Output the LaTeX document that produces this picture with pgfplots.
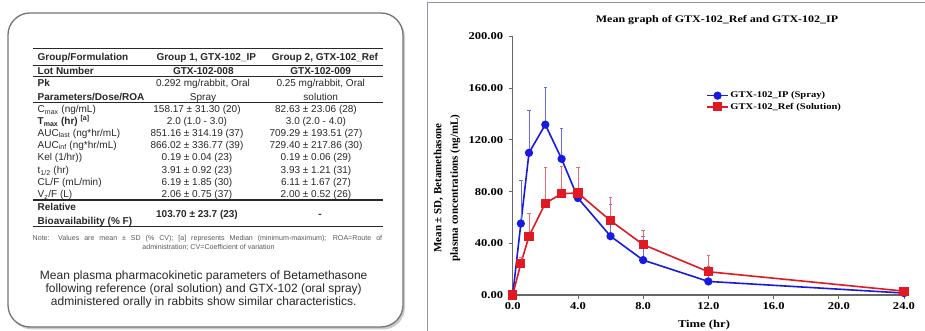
\documentclass[border=0pt]{standalone}
\usepackage{pgfplots}
\pgfplotsset{compat=1.18}
\usepackage{pgfplotstable}
\usepackage{fontspec}
\setmainfont{Liberation Serif}
\newfontfamily\arialf{Liberation Sans}
\newfontfamily\chartfont[FakeStretch=1.2]{Liberation Serif}
\usetikzlibrary{shadows}
\definecolor{ipblue}{RGB}{25,25,225}
\definecolor{refred}{RGB}{225,25,35}
\definecolor{panelborder}{RGB}{115,115,120}
\definecolor{rightborder}{RGB}{140,150,172}
\definecolor{tabtext}{RGB}{40,40,40}
\definecolor{notetext}{RGB}{90,90,90}

\pgfplotstableread{
t y e
0 0 0
0.5 55.3 33.3
1 110 33
2 131.8 28.7
3 105.3 23.7
4 75 23.4
6 45.5 24.5
8 27 18.5
12 10.5 11.5
24 1.5 1.5
}\iptable
\pgfplotstableread{
t y e
0 0 0
0.5 24.4 5.1
1 45.5 17.5
2 71 27.4
3 78.4 21.3
4 78.9 19.5
6 57.5 18.3
8 39 11
12 18 12.5
24 3 1.5
}\reftable

\newcommand\TL[2]{\node[anchor=base west,inner sep=0pt] at (37.5,{327.4-#1}) {#2};}
\newcommand\TC[3]{\node[anchor=base,inner sep=0pt] at (#1,{327.4-#2}) {#3};}
\newcommand\HR[2]{\draw[tabtext, line width=#2] (32.5,{331-#1}) -- (383,{331-#1});}

\begin{document}
\begin{tikzpicture}[x=1pt,y=1pt]
\useasboundingbox (0,0) rectangle (925,331);
% ---------- left panel ----------
\draw[panelborder, line width=1.3pt, rounded corners=22pt, fill=white,
  drop shadow={shadow xshift=2pt, shadow yshift=-2.5pt, opacity=0.4}] (8,4) rectangle (403,318);
\begin{scope}[font=\arialf\fontsize{10}{11}\selectfont, text=tabtext]
\HR{48.3}{1.3pt}
\HR{65}{0.9pt}
\HR{76.7}{0.6pt}
\HR{102.3}{1.0pt}
\HR{200}{1.3pt}
\HR{226.7}{1.3pt}
\TL{56.7}{\bfseries Group/Formulation}
\TC{206.3}{56.7}{\bfseries Group 1, GTX-102\_IP}
\TC{325}{56.7}{\bfseries Group 2, GTX-102\_Ref}
\TL{70.7}{\bfseries Lot Number}
\TC{203.3}{70.7}{\bfseries GTX-102-008}
\TC{320.7}{70.7}{\bfseries GTX-102-009}
\TL{83}{\bfseries Pk}
\TL{96.5}{\bfseries Parameters/Dose/ROA}
\TC{203}{83}{0.292 mg/rabbit, Oral}
\TC{203}{96.5}{Spray}
\TC{320.7}{83}{0.25 mg/rabbit, Oral}
\TC{320.7}{96.5}{solution}
\TL{109}{C\textsubscript{max} (ng/mL)}
\TC{197}{109}{158.17 ± 31.30 (20)}
\TC{316}{109}{82.63 ± 23.06 (28)}
\TL{121}{\bfseries T\textsubscript{max} (hr) \textsuperscript{[a]}}
\TC{197}{121}{2.0 (1.0 - 3.0)}
\TC{316}{121}{3.0 (2.0 - 4.0)}
\TL{132.5}{AUC\textsubscript{last} (ng*hr/mL)}
\TC{197}{132.5}{851.16 ± 314.19 (37)}
\TC{316}{132.5}{709.29 ± 193.51 (27)}
\TL{144.5}{AUC\textsubscript{inf} (ng*hr/mL)}
\TC{197}{144.5}{866.02 ± 336.77 (39)}
\TC{316}{144.5}{729.40 ± 217.86 (30)}
\TL{157}{Kel (1/hr))}
\TC{197}{157}{0.19 ± 0.04 (23)}
\TC{316}{157}{0.19 ± 0.06 (29)}
\TL{170}{t\textsubscript{1/2} (hr)}
\TC{197}{170}{3.91 ± 0.92 (23)}
\TC{316}{170}{3.93 ± 1.21 (31)}
\TL{182.3}{CL/F (mL/min)}
\TC{197}{182.3}{6.19 ± 1.85 (30)}
\TC{316}{182.3}{6.11 ± 1.67 (27)}
\TL{194.3}{V\textsubscript{z}/F (L)}
\TC{197}{194.3}{2.06 ± 0.75 (37)}
\TC{316}{194.3}{2.00 ± 0.52 (26)}
\TL{207}{\bfseries Relative}
\TL{220.5}{\bfseries Bioavailability (\% F)}
\TC{197}{214}{\bfseries 103.70 ± 23.7 (23)}
\TC{320}{214}{\bfseries -}
\end{scope}
\begin{scope}[font=\arialf\fontsize{7.1}{8}\selectfont, text=notetext]
\node[anchor=base west,inner sep=0pt] at (32.5,{331-237.7-2.5}) {\makebox[349.5pt][s]{Note: Values are mean ± SD (\% CV); [a] represents Median (minimum-maximum); ROA=Route of}};
\node[anchor=base,inner sep=0pt] at (208.5,{331-247.5-2.5}) {administration; CV=Coefficient of variation};
\end{scope}
\begin{scope}[font=\arialf\fontsize{12}{14}\selectfont, text=tabtext]
\node[anchor=base,inner sep=0pt] at (203.7,{331-275-4.3}) {Mean plasma pharmacokinetic parameters of Betamethasone};
\node[anchor=base,inner sep=0pt] at (203.7,{331-288.3-4.3}) {following reference (oral solution) and GTX-102 (oral spray)};
\node[anchor=base,inner sep=0pt] at (203.7,{331-301.7-4.3}) {administered orally in rabbits show similar characteristics.};
\end{scope}
% ---------- right panel ----------
\draw[rightborder, line width=1pt] (427.5,-5) rectangle (935,328.5);
\node[font=\chartfont\bfseries\fontsize{10}{12}\selectfont] at (717,311) {Mean graph of GTX-102\_Ref and GTX-102\_IP};
\node[font=\bfseries\fontsize{11}{16.5}\selectfont, rotate=90, align=center] at (447,143) {Mean ± SD, Betamethasone\\plasma concentrations (ng/mL)};
\node[font=\chartfont\bfseries\fontsize{10.5}{12}\selectfont] at (704,6.5) {Time (hr)};
\begin{axis}[
  at={(512.7pt,36pt)}, anchor=south west, scale only axis,
  width=391.3pt, height=258.5pt,
  xmin=0, xmax=24, ymin=0, ymax=200,
  clip=false,
  axis x line=bottom, axis y line=left,
  axis line style={-, black!60, line width=1.2pt},
  xtick={0,4,...,24}, ytick={0,40,...,200},
  tick align=outside, major tick length=4pt,
  tick style={black!60, line width=0.8pt},
  /pgf/number format/assume math mode=true,
  tick label style={font=\chartfont\bfseries\fontsize{10.5}{12}\selectfont},
  xticklabel style={/pgf/number format/.cd, fixed, fixed zerofill, precision=1},
  yticklabel style={xshift=-2pt, /pgf/number format/.cd, fixed, fixed zerofill, precision=2},
  legend image code/.code={\draw[mark repeat=2,mark phase=2,#1] plot coordinates {(0pt,0pt)(10.5pt,0pt)(21pt,0pt)};},
  legend style={at={(axis cs:11.86,158.5)}, anchor=north west, draw=none, fill=none,
    inner sep=0pt, row sep=0.5pt, font=\chartfont\bfseries\fontsize{8.8}{10.5}\selectfont,
    nodes={inner sep=1.5pt}},
  legend cell align=left,
]
\addplot[ipblue, line width=1.6pt, mark=*, mark size=3.3pt,
  error bars/.cd, y dir=plus, y explicit,
  error bar style={line width=0.7pt, ipblue!65},
  error mark options={rotate=90, mark size=1.8pt, line width=0.7pt, ipblue!65}]
  table[x=t, y=y, y error=e] {\iptable};
\addlegendentry{GTX-102\_IP (Spray)}
\addplot[refred, line width=1.6pt, mark=square*, mark size=3.8pt,
  error bars/.cd, y dir=plus, y explicit,
  error bar style={line width=0.7pt, refred!65},
  error mark options={rotate=90, mark size=1.8pt, line width=0.7pt, refred!65}]
  table[x=t, y=y, y error=e] {\reftable};
\addlegendentry{GTX-102\_Ref (Solution)}
\end{axis}
\end{tikzpicture}
\end{document}
